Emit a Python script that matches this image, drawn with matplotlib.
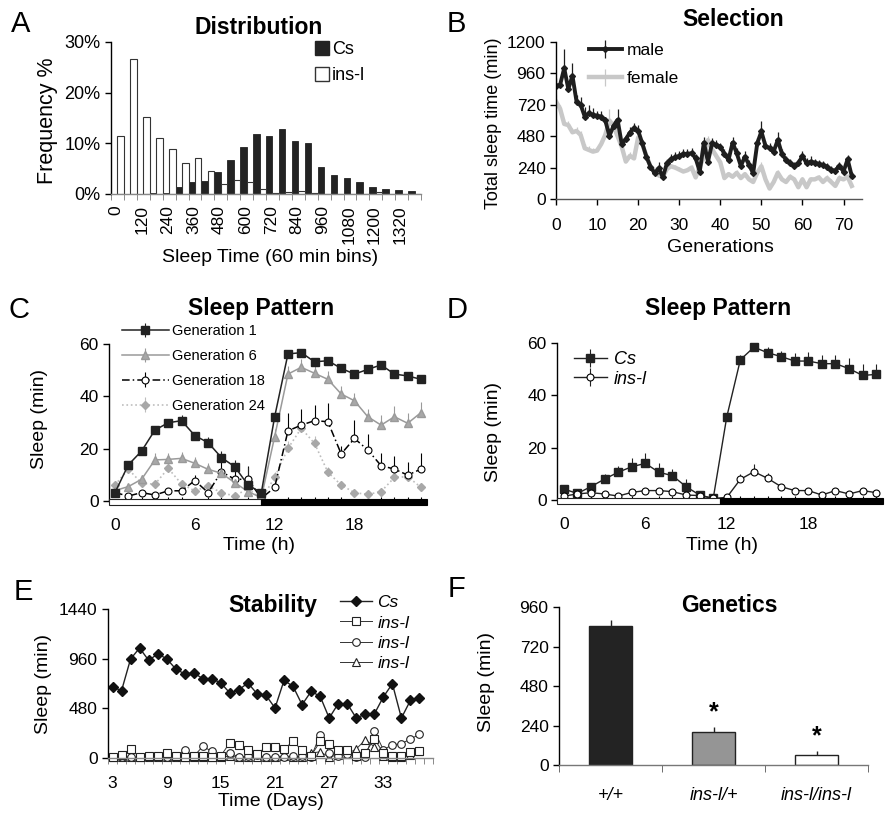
import numpy as np
import matplotlib
matplotlib.use('Agg')
import matplotlib.pyplot as plt
from matplotlib.lines import Line2D
from matplotlib.patches import Rectangle
from matplotlib.ticker import PercentFormatter, FixedLocator
import matplotlib.transforms as mtrans

plt.rcParams['font.family'] = ['Liberation Sans', 'DejaVu Sans']
plt.rcParams['font.size'] = 12
plt.rcParams['axes.linewidth'] = 1.0

W, H = 891, 813

# ---- A: distribution (percent per 60 min bin)
bin_labels = ['0', '120', '240', '360', '480', '600', '720', '840', '960', '1080', '1200', '1320']
cs_freq = [0, 0, 0, 0.26, 0.26, 1.44, 2.36, 2.56, 4.33, 6.76, 9.26, 11.9,
           11.4, 12.9, 10.5, 10.1, 5.25, 3.7, 3.2, 2.4, 1.45, 1.0, 0.8, 0.5]
ins_freq = [11.4, 26.7, 15.1, 11.0, 8.9, 6.2, 7.2, 4.5, 2.0, 2.7, 2.3, 0.9,
            0.2, 0.3, 0.5, 0.2, 0, 0, 0, 0, 0.3, 0, 0, 0]

# ---- B: selection
male = [865, 873, 1000, 840, 942, 745, 720, 630, 656, 643,
        636, 630, 600, 482, 559, 605, 421, 457, 508, 541,
        523, 426, 324, 248, 197, 235, 166, 273, 304, 319,
        329, 345, 345, 350, 311, 209, 431, 286, 426, 414,
        401, 345, 299, 431, 350, 253, 324, 260, 197, 426,
        516, 406, 388, 363, 452, 345, 299, 278, 253, 273,
        329, 273, 286, 278, 268, 260, 248, 222, 217, 253,
        209, 304, 176]
male_err = [60, 40, 150, 60, 100, 50, 60, 70, 60, 50,
            40, 40, 30, 60, 40, 80, 30, 30, 40, 40,
            40, 30, 20, 20, 30, 50, 20, 30, 40, 40,
            40, 40, 40, 40, 30, 60, 40, 40, 40, 40,
            30, 40, 60, 40, 40, 30, 40, 40, 30, 40,
            80, 40, 40, 40, 60, 40, 30, 30, 30, 30,
            40, 40, 40, 30, 30, 30, 30, 30, 30, 30,
            30, 30, 30]
female = [745, 690, 574, 565, 510, 520, 490, 388, 375, 362,
          370, 420, 490, 600, 560, 480, 400, 286, 330, 310,
          470, 420, 330, 250, 220, 180, 170, 230, 250, 240,
          225, 210, 220, 240, 165, 250, 320, 450, 380, 330,
          280, 160, 190, 170, 200, 160, 190, 150, 130, 200,
          250, 150, 80, 130, 200, 150, 130, 170, 150, 90,
          150, 90, 150, 150, 165, 130, 160, 130, 100, 160,
          150, 170, 100]
female_err = [50, 30, 40, 30, 30, 30, 30, 30, 30, 30,
              30, 30, 40, 90, 40, 30, 30, 30, 30, 30,
              30, 30, 30, 20, 20, 20, 20, 20, 20, 20,
              20, 20, 20, 20, 20, 30, 30, 30, 30, 20,
              20, 20, 20, 20, 20, 20, 20, 20, 20, 20,
              30, 20, 20, 20, 20, 20, 20, 20, 20, 20,
              20, 20, 20, 20, 20, 20, 20, 20, 20, 20,
              20, 20, 20]

# ---- C: sleep pattern across generations
hours = list(range(24))
gen1 = [3.2, 13.8, 19.1, 27.1, 29.9, 30.7, 25.0, 22.3, 16.6, 13.1, 6.1, 3.2,
        32.2, 56.2, 56.7, 53.2, 53.6, 50.7, 48.5, 50.3, 52.0, 48.5, 47.8, 46.5]
gen1_err = [0.5, 1, 1.5, 1.5, 1.5, 2, 1.5, 2, 2.5, 2.5, 7, 1,
            1.5, 1, 1, 1, 1, 1, 1, 1, 1, 1, 1, 1]
gen6 = [4.0, 5.5, 8.3, 15.7, 15.9, 16.3, 14.4, 12.1, 10.6, 7.0, 3.6, 1.3,
        24.6, 48.5, 51.1, 48.8, 46.5, 40.9, 38.3, 32.2, 29.0, 32.2, 29.7, 33.8]
gen6_err = [1, 1, 1.5, 2.5, 2.5, 2.5, 2.5, 2.5, 2, 2, 2, 1,
            3, 3, 3, 3, 3, 3, 3, 3, 4, 4, 4, 4]
gen18 = [3.2, 1.9, 3.2, 2.3, 3.9, 3.9, 7.8, 3.2, 11.2, 8.3, 8.3, 1.0,
         5.2, 26.8, 29.0, 30.7, 30.3, 18.0, 23.9, 19.5, 13.5, 12.2, 9.9, 12.2]
gen18_err = [0.5, 0.5, 0.5, 0.5, 1, 1, 2, 1, 4, 3, 5, 0.5,
             1, 7, 6, 6, 7, 3, 7, 6, 5, 5, 5, 6]
gen24 = [6.1, 12.2, 6.8, 6.4, 12.5, 6.5, 3.9, 5.7, 3.2, 1.9, 4.8, 0.6,
         9.0, 20.1, 27.8, 22.0, 11.0, 6.1, 3.2, 2.5, 3.6, 9.0, 9.3, 5.2]
gen24_err = [1, 2, 1, 1, 2, 1, 1, 1, 1, 1, 1, 0.5,
             2, 3, 3, 3, 2, 1, 1, 1, 1, 2, 2, 1]

# ---- D: Cs vs ins-l
cs_hour = [4.2, 2.5, 5.1, 8.0, 10.6, 12.7, 14.0, 10.6, 9.3, 5.1, 1.9, 0.6,
           31.8, 53.6, 58.4, 56.3, 54.8, 53.1, 53.1, 52.1, 52.1, 50.2, 47.6, 48.0]
cs_hour_err = [0.5, 0.5, 1.5, 2, 2.5, 3.5, 4, 3.5, 2.5, 3, 1, 0.5,
               1, 2, 1, 2, 2, 3, 3.5, 3.5, 3.5, 4, 4.5, 4]
ins_hour = [1.5, 2.3, 2.8, 2.3, 1.5, 2.9, 3.6, 3.6, 3.2, 1.9, 1.7, 0.6,
            1.0, 7.9, 10.8, 8.3, 5.1, 3.6, 3.6, 1.9, 3.6, 2.3, 3.6, 2.8]
ins_hour_err = [0.5, 0.5, 0.5, 0.5, 0.5, 0.5, 0.5, 0.5, 0.5, 0.5, 0.5, 0.3,
                0.5, 2, 3, 2, 1, 0.5, 0.5, 0.5, 0.5, 0.5, 0.5, 0.5]

# ---- E: stability over days
days = list(range(3, 38))
cs_days = [686, 651, 957, 1063, 944, 1005, 960, 860, 812, 822,
           767, 767, 725, 628, 660, 725, 622, 606, 483, 750,
           692, 515, 644, 596, 386, 525, 525, 386, 425, 425,
           590, 718, 386, 557, 576]
ins_sq = [10, 32, 85, 10, 22, 16, 48, 22, 10, 16,
          16, 5, 22, 148, 124, 74, 40, 104, 104, 87,
          160, 74, 22, 160, 138, 74, 74, 22, 48, 187,
          48, 22, 16, 55, 64]
ins_circ = [5, 10, 10, 5, 5, 5, 10, 10, 80, 15,
            113, 64, 15, 48, 10, 15, 32, 5, 10, 10,
            15, 15, 10, 225, 48, 15, 40, 5, 10, 262,
            80, 128, 138, 184, 228]
ins_tri = [5, 10, 5, 5, 10, 5, 5, 10, 5, 5,
           10, 5, 5, 20, 5, 5, 10, 5, 5, 20,
           5, 10, 48, 60, 10, 30, 40, 87, 176, 110,
           20, 5, 10, 30, 64]

# ---- F: genetics
genotypes = ['+/+', 'ins-l/+', 'ins-l/ins-l']
geno_sleep = [843, 198, 63]
geno_err = [40, 34, 22]
geno_colors = ['#232323', '#959595', 'white']

TICK = 12.5
TITLE = 16.5
XLAB = 14
YLAB = 14

fig = plt.figure(figsize=(W / 100, H / 100), dpi=100)


def add_ax(l, t, r, b):
    ax = fig.add_axes([l / W, 1 - b / H, (r - l) / W, (b - t) / H])
    ax.spines['top'].set_visible(False)
    ax.spines['right'].set_visible(False)
    ax.tick_params(labelsize=TICK, length=4, width=1)
    return ax


def ftext(x, y, s, **kw):
    kw.setdefault('ha', 'center')
    kw.setdefault('va', 'center')
    fig.text(x / W, 1 - y / H, s, **kw)


def up_err(err):
    return [np.zeros(len(err)), err]


# Panel A
axA = add_ax(111, 42, 421, 194)
k = np.arange(len(cs_freq))
axA.bar(k, cs_freq, width=0.5, align='edge', color='#232323', edgecolor='#232323', lw=0.6)
axA.bar(k + 0.5, ins_freq, width=0.5, align='edge', color='white', edgecolor='#333333', lw=0.8)
axA.set_xlim(0, 24)
axA.set_ylim(0, 30)
axA.set_yticks([0, 10, 20, 30])
axA.yaxis.set_major_formatter(PercentFormatter(100, decimals=0))
axA.xaxis.set_major_locator(FixedLocator(np.arange(0, 24, 2) + 0.4))
axA.set_xticklabels(bin_labels, rotation=90)
axA.xaxis.set_minor_locator(FixedLocator(np.arange(0, 25)))
axA.tick_params(axis='y', which='major', labelsize=13)
axA.tick_params(axis='x', which='major', length=0, pad=8, labelsize=12.5)
axA.tick_params(axis='x', which='minor', length=4, color='#777777')
axA.spines['bottom'].set_color('#888888')
axA.legend(handles=[Line2D([], [], ls='none', marker='s', ms=10, mfc='#232323', mec='#232323', label='Cs'),
                    Line2D([], [], ls='none', marker='s', ms=10, mfc='white', mec='#333333', label='ins-l')],
           loc='upper left', bbox_to_anchor=(313 / W, 1 - 41 / H), bbox_transform=fig.transFigure,
           frameon=False, fontsize=13, handletextpad=0.05, handlelength=1.0,
           borderpad=0, borderaxespad=0, labelspacing=0.5)
ftext(259, 27, 'Distribution', fontsize=TITLE, fontweight='bold')
ftext(270, 257, 'Sleep Time (60 min bins)', fontsize=XLAB)
ftext(47, 121, 'Frequency %', fontsize=15.5, rotation=90)
ftext(21, 24, 'A', fontsize=21)

# Panel B
axB = add_ax(556, 42, 862, 199)
gens = np.arange(len(male))
axB.errorbar(gens, female, yerr=up_err(female_err), color='#c8c8c8', lw=3.2, elinewidth=0.9,
             ecolor='#c8c8c8', capsize=0, label='female')
axB.errorbar(gens, male, yerr=up_err(male_err), color='#1e1e1e', lw=2.8, marker='D', ms=3,
             elinewidth=0.9, ecolor='#1e1e1e', capsize=0, label='male')
axB.set_xlim(0, 74.5)
axB.set_ylim(0, 1200)
axB.set_yticks([0, 240, 480, 720, 960, 1200])
axB.set_xticks([0, 10, 20, 30, 40, 50, 60, 70])
axB.tick_params(axis='x', pad=10)
axB.spines['bottom'].set_color('#555555')
hB, lB = axB.get_legend_handles_labels()
axB.legend([hB[1], hB[0]], [lB[1], lB[0]], loc='upper left',
           bbox_to_anchor=(589 / W, 1 - 43 / H), bbox_transform=fig.transFigure,
           frameon=False, fontsize=12.5, handlelength=1.9, handletextpad=0.25,
           borderpad=0, borderaxespad=0, labelspacing=0.75)
ftext(733, 20, 'Selection', fontsize=TITLE, fontweight='bold')
ftext(720, 248, 'Generations', fontsize=XLAB)
ftext(493, 123, 'Total sleep time (min)', fontsize=13, rotation=90)
ftext(456, 24, 'B', fontsize=21)


def light_dark(ax, x0, xm, x1):
    tr = mtrans.blended_transform_factory(ax.transData, ax.transAxes)
    ax.add_patch(Rectangle((x0, -0.026), xm - x0, 0.037, transform=tr, facecolor='white',
                           edgecolor='#222222', lw=0.8, clip_on=False, zorder=4))
    ax.add_patch(Rectangle((xm, -0.026), x1 - xm, 0.037, transform=tr, facecolor='black',
                           edgecolor='black', lw=0.8, clip_on=False, zorder=4))


def hour_axis(ax, x0, x1):
    ax.set_xlim(x0, x1)
    ax.set_ylim(0, 60)
    ax.set_yticks([0, 20, 40, 60])
    ax.set_xticks([0, 6, 12, 18])
    ax.xaxis.set_minor_locator(FixedLocator(hours))
    ax.tick_params(axis='x', which='major', length=0, pad=12)
    ax.tick_params(axis='x', which='minor', length=3, direction='in', width=0.8, zorder=6)
    ax.spines['bottom'].set_visible(False)


# Panel C
axC = add_ax(109, 344, 427, 501)
axC.errorbar(hours, gen24, yerr=up_err(gen24_err), color='#bdbdbd', ls=':', lw=1.2, marker='D', ms=4,
             mfc='#a8a8a8', mec='#a8a8a8', ecolor='#bdbdbd', elinewidth=0.8, capsize=0,
             clip_on=False, label='Generation 24')
axC.errorbar(hours, gen18, yerr=up_err(gen18_err), color='black', ls=(0, (5, 2, 1, 2)), lw=1.1,
             marker='o', ms=5, mfc='white', mec='black', mew=0.8, ecolor='black', elinewidth=0.8,
             capsize=0, clip_on=False, label='Generation 18')
axC.errorbar(hours, gen6, yerr=up_err(gen6_err), color='#9a9a9a', lw=1.1, marker='^', ms=6,
             mfc='#a8a8a8', mec='#9a9a9a', ecolor='#9a9a9a', elinewidth=0.8, capsize=0,
             clip_on=False, label='Generation 6')
axC.errorbar(hours, gen1, yerr=up_err(gen1_err), color='#222222', lw=1.1, marker='s', ms=5.5,
             ecolor='#222222', elinewidth=0.8, capsize=0, clip_on=False, label='Generation 1')
hour_axis(axC, -0.45, 23.45)
light_dark(axC, -0.45, 11.0, 23.45)
hC, lC = axC.get_legend_handles_labels()
axC.legend(hC[::-1], lC[::-1], loc='upper left', bbox_to_anchor=(122 / W, 1 - 324 / H),
           bbox_transform=fig.transFigure, frameon=False, fontsize=10.5, handlelength=3.2,
           handletextpad=0.2, borderpad=0, borderaxespad=0, labelspacing=0.75)
ftext(261, 309, 'Sleep Pattern', fontsize=TITLE, fontweight='bold')
ftext(259, 546, 'Time (h)', fontsize=XLAB)
ftext(40, 419, 'Sleep (min)', fontsize=YLAB, rotation=90)
ftext(19, 310, 'C', fontsize=21)

# Panel D
axD = add_ax(557, 343, 883, 500)
axD.errorbar(hours, cs_hour, yerr=up_err(cs_hour_err), color='#222222', lw=1.0, marker='s', ms=5.5,
             ecolor='#222222', elinewidth=0.8, capsize=0, clip_on=False, label='Cs')
axD.errorbar(hours, ins_hour, yerr=up_err(ins_hour_err), color='#222222', lw=1.0, marker='o', ms=5,
             mfc='white', mec='black', mew=0.8, ecolor='#222222', elinewidth=0.8, capsize=0,
             clip_on=False, label='ins-l')
hour_axis(axD, -0.5, 23.5)
light_dark(axD, -0.5, 11.5, 23.5)
axD.legend(loc='upper left', bbox_to_anchor=(574 / W, 1 - 351 / H), bbox_transform=fig.transFigure,
           frameon=False, prop={'style': 'italic', 'size': 13}, handlelength=1.8,
           handletextpad=0.4, borderpad=0, borderaxespad=0, labelspacing=0.15)
ftext(718, 309, 'Sleep Pattern', fontsize=TITLE, fontweight='bold')
ftext(722, 546, 'Time (h)', fontsize=XLAB)
ftext(493, 432, 'Sleep (min)', fontsize=YLAB, rotation=90)
ftext(457, 310, 'D', fontsize=21)

# Panel E
axE = add_ax(108, 609, 433, 758)
axE.plot(days, ins_tri, color='#333333', lw=0.7, marker='^', ms=5.5, mfc='white', mec='#222222',
         mew=0.8, clip_on=False, label='ins-l ')
axE.plot(days, ins_circ, color='#333333', lw=0.7, marker='o', ms=5.5, mfc='white', mec='#222222',
         mew=0.8, clip_on=False, label='ins-l  ')
axE.plot(days, ins_sq, color='#333333', lw=0.7, marker='s', ms=5.5, mfc='white', mec='#222222',
         mew=0.8, clip_on=False, label='ins-l')
axE.plot(days, cs_days, color='#222222', lw=1.0, marker='D', ms=5.5, mfc='#111111', mec='#111111',
         clip_on=False, label='Cs')
axE.set_xlim(2.5, 38.5)
axE.set_ylim(0, 1440)
axE.set_yticks([0, 480, 960, 1440])
axE.set_xticks([3, 9, 15, 21, 27, 33])
axE.xaxis.set_minor_locator(FixedLocator(np.arange(2.5, 39, 1)))
axE.tick_params(axis='x', which='major', length=0, pad=13)
axE.tick_params(axis='x', which='minor', length=4, color='#777777')
axE.spines['bottom'].set_color('#888888')
hE, lE = axE.get_legend_handles_labels()
axE.legend(hE[::-1], ['Cs', 'ins-l', 'ins-l', 'ins-l'], loc='upper left',
           bbox_to_anchor=(340 / W, 1 - 595 / H), bbox_transform=fig.transFigure, frameon=False,
           prop={'style': 'italic', 'size': 12.5}, handlelength=1.85, handletextpad=0.3,
           borderpad=0, borderaxespad=0, labelspacing=0.3)
ftext(273, 605, 'Stability', fontsize=TITLE, fontweight='bold')
ftext(271, 801, 'Time (Days)', fontsize=XLAB)
ftext(43, 684, 'Sleep (min)', fontsize=YLAB, rotation=90)
ftext(23, 592, 'E', fontsize=21)

# Panel F
axF = add_ax(559, 607, 868, 765)
xg = np.arange(len(genotypes))
axF.bar(xg, geno_sleep, width=0.41, color=geno_colors, edgecolor='#222222', lw=1.0,
        yerr=up_err(geno_err), error_kw=dict(ecolor='#222222', elinewidth=1.0, capsize=0))
for i in [1, 2]:
    axF.text(xg[i], geno_sleep[i] + geno_err[i] + 15, '*', ha='center', va='bottom',
             fontsize=18, fontweight='bold')
axF.set_xlim(-0.5, 2.5)
axF.set_ylim(0, 960)
axF.set_yticks([0, 240, 480, 720, 960])
axF.set_xticks(xg)
axF.set_xticklabels(genotypes, style='italic', fontsize=13)
axF.xaxis.set_minor_locator(FixedLocator([-0.5, 0.5, 1.5, 2.5]))
axF.tick_params(axis='x', which='major', length=0, pad=16)
axF.tick_params(axis='x', which='minor', length=5, color='#555555')
axF.spines['bottom'].set_color('#777777')
ftext(729, 605, 'Genetics', fontsize=TITLE, fontweight='bold')
ftext(487, 682, 'Sleep (min)', fontsize=YLAB, rotation=90)
ftext(457, 589, 'F', fontsize=21)

fig.savefig('out.png', dpi=100)
